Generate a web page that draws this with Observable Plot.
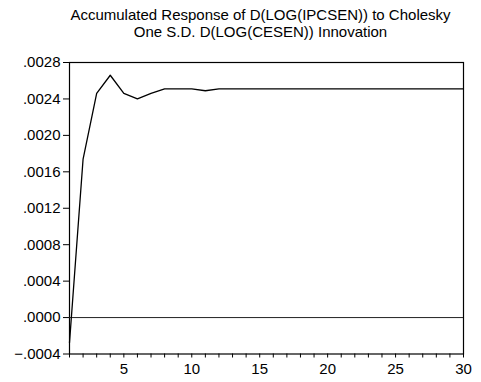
<!DOCTYPE html>
<html>
<head>
<meta charset="utf-8">
<script src="https://cdn.jsdelivr.net/npm/d3@7"></script>
<script src="https://cdn.jsdelivr.net/npm/@observablehq/plot@0.6"></script>
<style>
  html, body { margin: 0; padding: 0; background: #fff; }
</style>
</head>
<body>
<div id="chart"></div>
<script>
const titleLines = [
  "Accumulated Response of D(LOG(IPCSEN)) to Cholesky",
  "One S.D. D(LOG(CESEN)) Innovation"
];
const periods = d3.range(1, 31);
const response = [
  -0.000276, 0.00174, 0.00246, 0.00266, 0.00246, 0.00240, 0.00246, 0.00251, 0.00251, 0.00251,
  0.00249, 0.00251, 0.00251, 0.00251, 0.00251, 0.00251, 0.00251, 0.00251, 0.00251, 0.00251,
  0.00251, 0.00251, 0.00251, 0.00251, 0.00251, 0.00251, 0.00251, 0.00251, 0.00251, 0.00251
];
const yTicks = [-0.0004, 0.0000, 0.0004, 0.0008, 0.0012, 0.0016, 0.0020, 0.0024, 0.0028];
const xTicks = d3.range(1, 31);
const xLabelEvery = 5;

const data = periods.map((p, i) => ({period: p, value: response[i]}));
const fmtY = d => d3.format(".4f")(Math.abs(d) < 1e-12 ? 0 : d).replace("0.", ".");

const chart = Plot.plot({
  width: 481,
  height: 382,
  marginLeft: 69,
  marginRight: 18,
  marginTop: 62,
  marginBottom: 28.5,
  style: {fontFamily: "'Liberation Sans', Arial, sans-serif", fontSize: "15px", color: "#000", background: "#fff"},
  x: {domain: [1, 30]},
  y: {domain: [-0.0004, 0.0028]},
  marks: [
    Plot.frame({stroke: "#000", strokeWidth: 1.2}),
    Plot.ruleY([0], {stroke: "#222", strokeWidth: 1}),
    Plot.line(data, {x: "period", y: "value", stroke: "#000", strokeWidth: 1.3}),
    Plot.axisX({ticks: xTicks, tickSize: 4, tickPadding: 5, label: null,
      tickFormat: d => d % xLabelEvery === 0 ? String(d) : "", stroke: "#000", fontSize: 15}),
    Plot.axisY({ticks: yTicks, tickSize: 6, tickPadding: 3, label: null,
      tickFormat: fmtY, stroke: "#000", fontSize: 15}),
    Plot.text([titleLines[0]], {text: d => d, frameAnchor: "top",
      dx: -6, dy: -47, lineAnchor: "middle", fontSize: 15, fill: "#000"}),
    Plot.text([titleLines[1]], {text: d => d, frameAnchor: "top",
      dx: -6, dy: -30, lineAnchor: "middle", fontSize: 15, fill: "#000"})
  ]
});
document.getElementById("chart").appendChild(chart);
</script>
</body>
</html>
